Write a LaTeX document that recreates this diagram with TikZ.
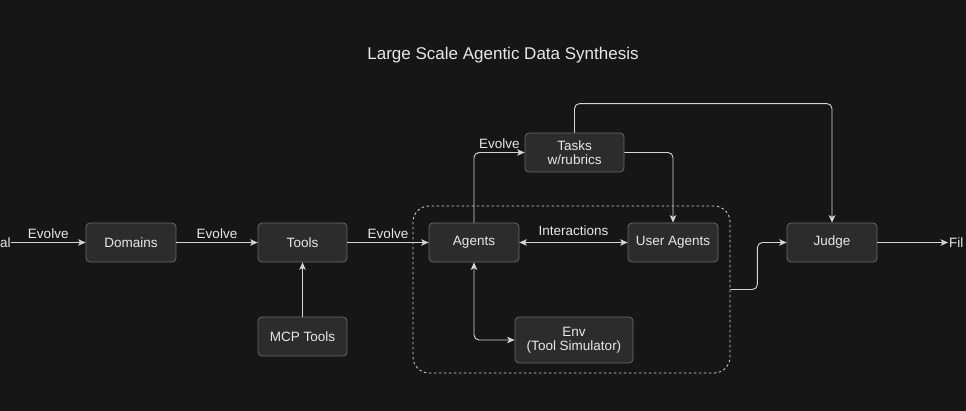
\documentclass[tikz,border=0pt]{standalone}
\usepackage{fontspec}
\setmainfont{Liberation Sans}
\usetikzlibrary{arrows, arrows.meta}
\usetikzlibrary{calc}

\definecolor{bgdark}{HTML}{161616}
\definecolor{boxfill}{HTML}{2C2C2C}
\definecolor{boxline}{HTML}{686868}
\definecolor{linegray}{HTML}{D6D6D6}
\definecolor{textgray}{HTML}{E8E8E8}

\begin{document}
\begin{tikzpicture}[x=1pt, y=-1pt,
    block/.style={rectangle, rounded corners=4pt, draw=boxline, fill=boxfill, line width=0.8pt, minimum width=90pt, minimum height=39pt, text=textgray, font=\fontsize{13.5}{16}\selectfont, align=center, inner sep=2pt},
    flow/.style={draw=linegray, line width=0.9pt, -{Stealth[length=7.5pt, width=6.5pt, inset=2pt]}},
    both/.style={{Stealth[length=7.5pt, width=6.5pt, inset=2pt]}-{Stealth[length=7.5pt, width=6.5pt, inset=2pt]}},
    lbl/.style={text=textgray, font=\fontsize{13.5}{16}\selectfont, inner sep=1pt}]
      \useasboundingbox[fill=bgdark] (0,0) rectangle (966,411);

      \node[lbl, font=\fontsize{17}{20}\selectfont] (title) at (503,55) {Large Scale Agentic Data Synthesis};

      % dashed group round the agents
      \node[draw=linegray, line width=0.8pt, dash pattern=on 2.5pt off 2.5pt, rounded corners=16pt, minimum width=317pt, minimum height=167pt] (envbox) at (571.5,289.5) {};

      \node[block] (domains) at (131,242.5) {Domains};
      \node[block, minimum width=89pt] (tools) at (302.5,242.5) {Tools};
      \node[block, minimum width=89pt] (mcp) at (302.5,336.5) {MCP Tools};
      \node[block] (agents) at (474,242.5) {Agents};
      \node[block] (useragents) at (673,242.5) {User Agents};
      \node[block, minimum width=99pt] (tasks) at (574.5,152.5) {Tasks\\[-2pt]w/rubrics};
      \node[block, minimum width=118pt, minimum height=46pt] (env) at (574,340) {Env\\[-2pt](Tool Simulator)};
      \node[block] (judge) at (832,242.5) {Judge};

      \node[lbl, anchor=west, inner sep=0pt] (initial) at (0,242.5) {al};
      \node[lbl, anchor=west] (output) at (948,242.5) {Fil};

      \draw[flow] (initial) -- (domains) node[lbl, midway, above=2pt] {Evolve};
      \draw[flow] (domains) -- (tools) node[lbl, midway, above=2pt] {Evolve};
      \draw[flow] (tools) -- (agents) node[lbl, midway, above=2pt] {Evolve};
      \draw[flow] (mcp) -- (tools);
      \draw[flow, both] (agents) -- (useragents) node[lbl, midway, above=5pt] {Interactions};
      \draw[flow, rounded corners=5pt] (agents.north) |- (tasks.west) node[lbl, pos=0.75, above=2pt] {Evolve};
      \draw[flow, rounded corners=5pt] (tasks.east) -| (useragents.north);
      \draw[flow, rounded corners=5pt] (tasks.north) -- ++(0,-29) -| (judge.north);
      \draw[flow, both, rounded corners=5pt] (agents.south) |- (env.west);
      \draw[flow, rounded corners=5pt] (envbox.east) -- ++(27,0) |- (judge.west);
      \draw[flow] (judge) -- (output);
\end{tikzpicture}
\end{document}
